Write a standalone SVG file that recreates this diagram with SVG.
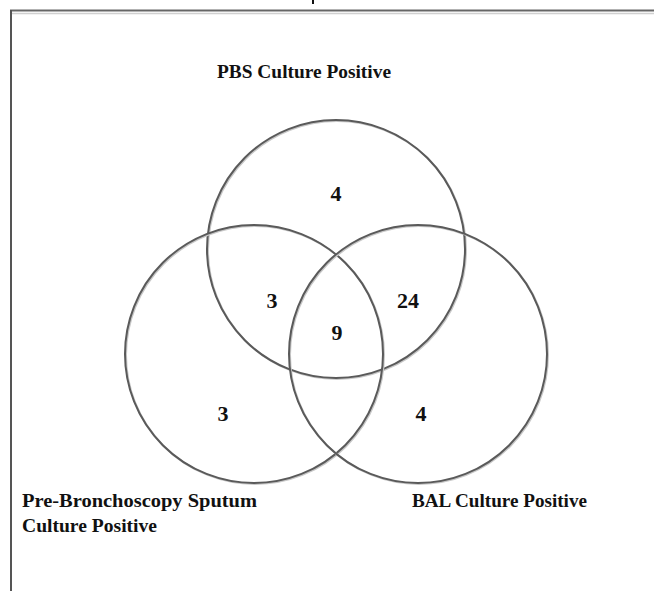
<svg xmlns="http://www.w3.org/2000/svg" width="654" height="591" viewBox="0 0 654 591">
<style>
.ring{fill:none;stroke:#5a5a5a;stroke-width:2}
.shadow{fill:none;stroke:#c8c8c8;stroke-width:2}
.lbl{font-family:"Liberation Serif","DejaVu Serif",serif;font-weight:bold;font-size:19px;fill:#111}
.num{font-family:"Liberation Serif","DejaVu Serif",serif;font-weight:bold;font-size:22px;fill:#111;text-anchor:middle}
</style>
<rect width="654" height="591" fill="#fff"/>
<g id="frame">
<line x1="10" y1="10.5" x2="654" y2="10.5" stroke="#666" stroke-width="2"/>
<line x1="12" y1="13.5" x2="654" y2="13.5" stroke="#d0d0d0" stroke-width="1.5"/>
<line x1="11" y1="10" x2="11" y2="591" stroke="#555" stroke-width="2"/>
<rect x="312" y="0" width="2" height="4" fill="#111"/>
</g>
<g id="connectors"></g>
<g id="pbs">
<circle class="shadow" cx="337" cy="250" r="129"/>
<circle class="ring" cx="336" cy="249" r="129"/>
<text class="lbl" x="217" y="78" textLength="174" lengthAdjust="spacingAndGlyphs">PBS Culture Positive</text>
</g>
<g id="sputum">
<circle class="shadow" cx="255" cy="355" r="129"/>
<circle class="ring" cx="254" cy="354" r="129"/>
<text class="lbl" x="22" y="507" textLength="235" lengthAdjust="spacingAndGlyphs">Pre-Bronchoscopy Sputum</text>
<text class="lbl" x="22" y="532" textLength="135" lengthAdjust="spacingAndGlyphs">Culture Positive</text>
</g>
<g id="bal">
<circle class="shadow" cx="419" cy="355" r="129"/>
<circle class="ring" cx="418" cy="354" r="129"/>
<text class="lbl" x="412" y="507" textLength="175" lengthAdjust="spacingAndGlyphs">BAL Culture Positive</text>
</g>
<g id="counts">
<text class="num" x="336" y="201">4</text>
<text class="num" x="272" y="308">3</text>
<text class="num" x="408" y="308">24</text>
<text class="num" x="337" y="340">9</text>
<text class="num" x="223" y="421">3</text>
<text class="num" x="421" y="421">4</text>
</g>
</svg>
